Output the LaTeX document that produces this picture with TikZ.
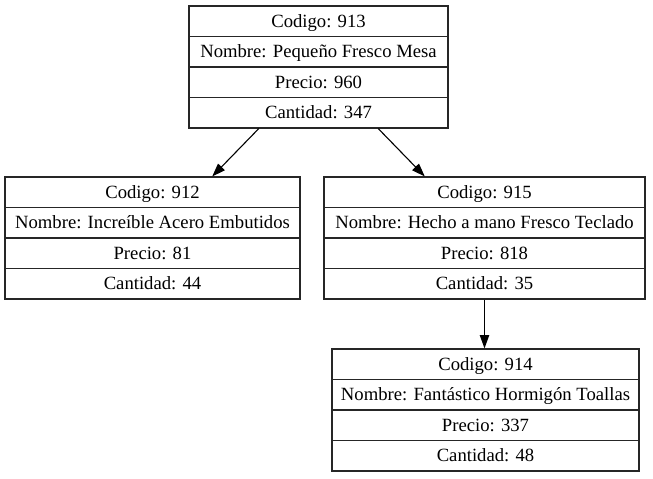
\documentclass[tikz,border=0pt]{standalone}
\usepackage{fontspec}
\setmainfont{Liberation Serif}
\usetikzlibrary{arrows.meta}
\tikzset{
  recbox/.style={draw=black!85, line width=1.1pt, inner sep=0pt, rectangle},
  sepline/.style={draw=black!85, line width=1.1pt},
  rowtext/.style={inner sep=0pt, anchor=center, text height=12.3pt, text depth=0pt, font=\fontsize{18.67}{22}\selectfont},
  edge/.style={draw=black, line width=1.1pt, -{Triangle[length=13.3pt,width=9.3pt]}}
}
\newcommand\recordbox[8]{%
  \node[recbox, minimum width={(#3-#2)*1pt}, minimum height=122pt] (#1) at ({(#2+#3)/2},{#4+61}) {};
  \draw[sepline] ({#2},{#4+30.5}) -- ({#3},{#4+30.5});
  \draw[sepline] ({#2},{#4+61}) -- ({#3},{#4+61});
  \draw[sepline] ({#2},{#4+91.5}) -- ({#3},{#4+91.5});
  \node[rowtext] (#1-a) at ({(#2+#3)/2},{#4+15.25}) {#5};
  \node[rowtext] (#1-b) at ({(#2+#3)/2},{#4+45.75}) {#6};
  \node[rowtext] (#1-c) at ({(#2+#3)/2},{#4+76.25}) {#7};
  \node[rowtext] (#1-d) at ({(#2+#3)/2},{#4+106.75}) {#8};
}
\begin{document}
\begin{tikzpicture}[x=1pt,y=-1pt]
\useasboundingbox (0,0) rectangle (653,479);
\recordbox{n913}{189}{448}{6}{Codigo: 913}{Nombre: Pequeño Fresco Mesa}{Precio: 960}{Cantidad: 347}
\recordbox{n912}{5}{300}{177}{Codigo: 912}{Nombre: Increíble Acero Embutidos}{Precio: 81}{Cantidad: 44}
\recordbox{n915}{324}{645}{177}{Codigo: 915}{Nombre: Hecho a mano Fresco Teclado}{Precio: 818}{Cantidad: 35}
\recordbox{n914}{332}{639}{349}{Codigo: 914}{Nombre: Fantástico Hormigón Toallas}{Precio: 337}{Cantidad: 48}
\draw[edge] (n913) -- (n912);
\draw[edge] (n913) -- (n915);
\draw[edge] (n915.south) -- (n915.south |- n914.north);
\end{tikzpicture}
\end{document}
